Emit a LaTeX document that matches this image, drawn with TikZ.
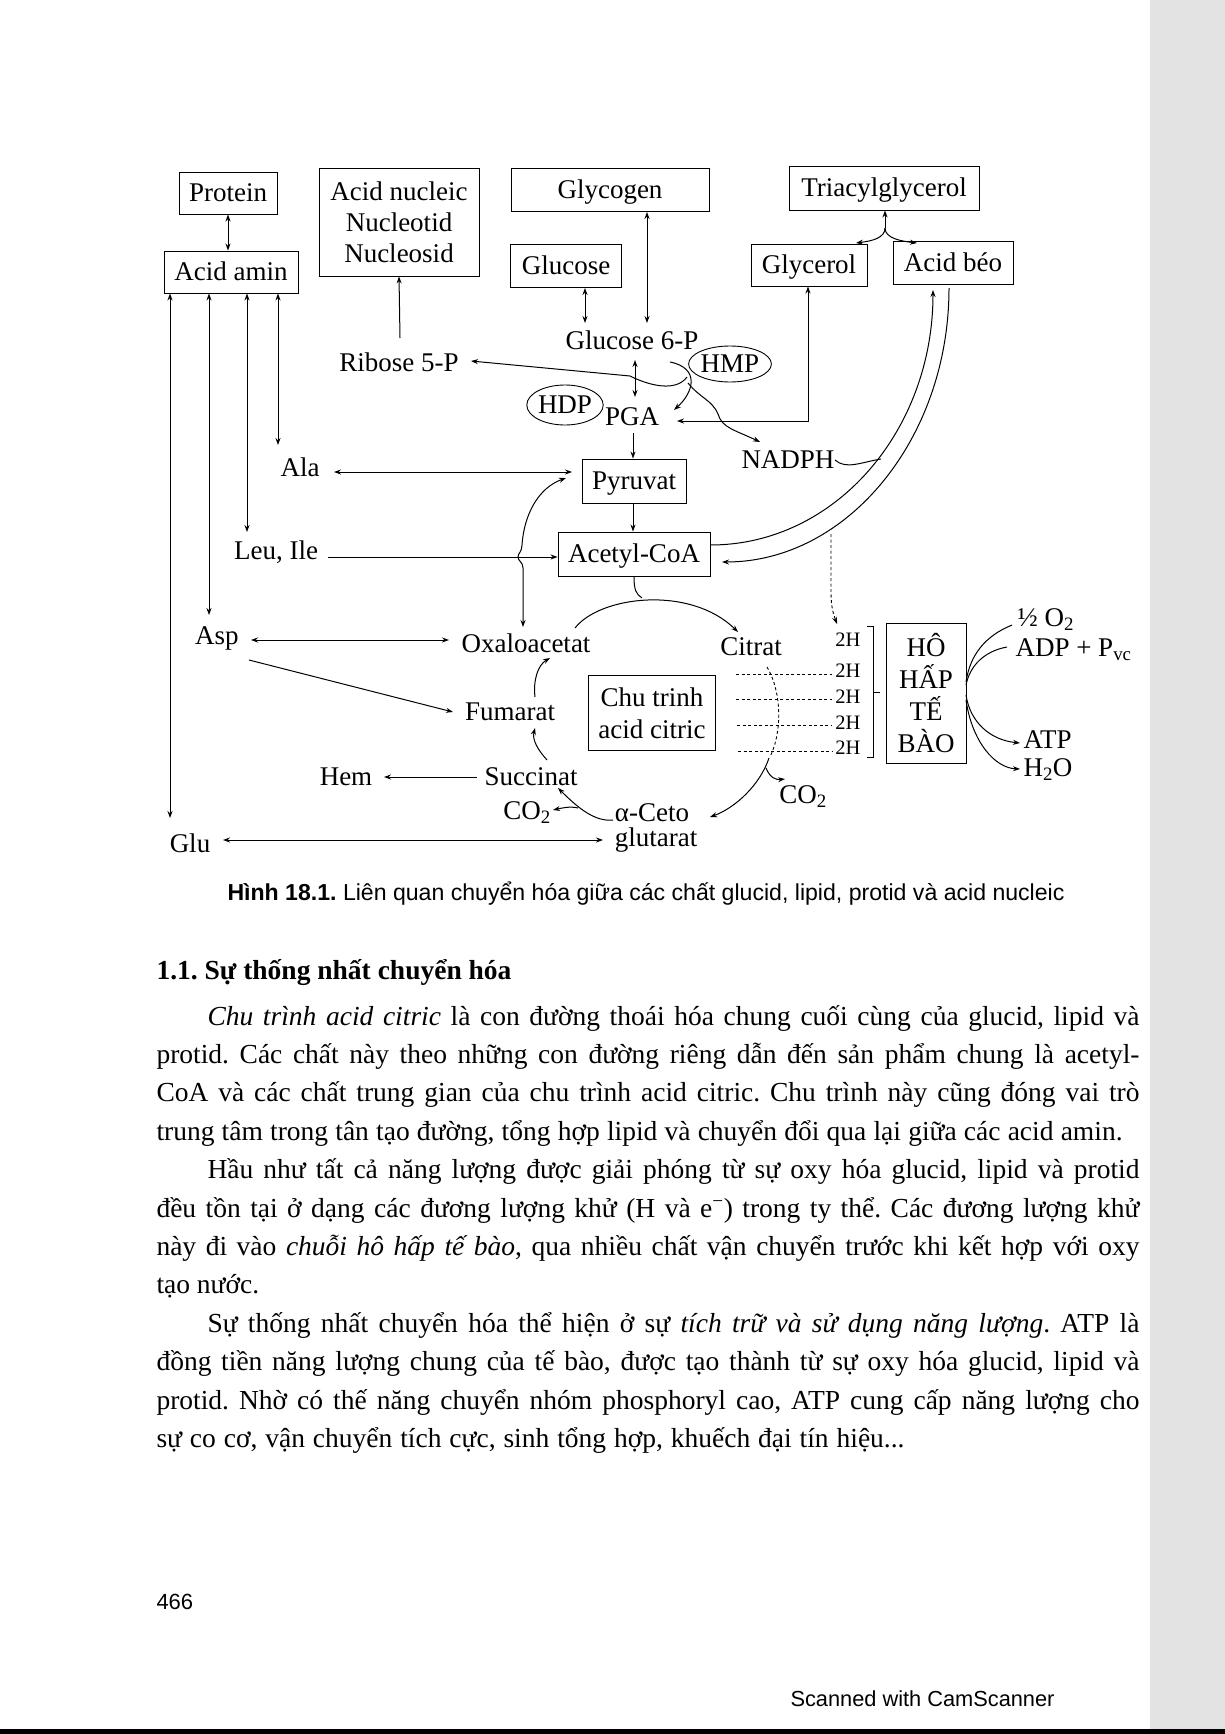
\documentclass[tikz,border=0pt]{standalone}
\usepackage{fontspec}
\usepackage{graphicx}
\setmainfont{Liberation Serif}
\newfontfamily\sansf{Liberation Sans}
\usetikzlibrary{arrows.meta,shapes.geometric}
\frenchspacing
\newcommand\diagfont{\fontsize{27}{31}\selectfont}
\newcommand\hfnt{\fontsize{20.5}{24}\selectfont}
\newcommand\bodyfont{\fontsize{27.5}{38}\selectfont}
\begin{document}
\begin{tikzpicture}[x=1pt,y=-1pt,>={Stealth[length=7pt,width=5pt]},line width=1pt,
  box/.style={draw,line width=0.9pt,inner sep=0pt,font=\diagfont,align=center},
  sbox/.style={box,text height=19pt,text depth=3pt},
  lab/.style={inner sep=0pt,font=\diagfont},
  two/.style={inner sep=0pt,font=\hfnt},
  bl/.style={inner sep=0pt,anchor=base west,font=\bodyfont},
  dsh/.style={line width=0.9pt,dash pattern=on 3pt off 2.5pt}]
\useasboundingbox (0,0) rectangle (1225,1734);
\fill[white] (0,0) rectangle (1225,1734);
\fill[gray!22] (1150,0) rectangle (1225,1729);
\fill[black] (0,1729) rectangle (1225,1734);

% ---------- boxes ----------
\node[sbox,minimum width=98pt,minimum height=42pt] (protein) at (228,193) {Protein};
\node[sbox,minimum width=134pt,minimum height=42pt] (acidamin) at (231,272) {Acid amin};
\node[box,minimum width=160pt,minimum height=108pt] (nucleic) at (399,222) {Acid nucleic\\Nucleotid\\Nucleosid};
\node[sbox,minimum width=198pt,minimum height=43pt] (glycogen) at (610,190) {Glycogen};
\node[sbox,minimum width=111pt,minimum height=43pt] (glucose) at (566,266) {Glucose};
\node[sbox,minimum width=190pt,minimum height=44pt] (triacyl) at (884,188) {Triacylglycerol};
\node[sbox,minimum width=116pt,minimum height=42pt] (glycerol) at (809,265) {Glycerol};
\node[sbox,minimum width=120pt,minimum height=43pt] (acidbeo) at (953,263) {Acid béo};
\node[sbox,minimum width=104pt,minimum height=44pt] (pyruvat) at (634,481) {Pyruvat};
\node[sbox,minimum width=152pt,minimum height=44pt] (acetyl) at (634,554) {Acetyl-CoA};
\node[box,minimum width=127pt,minimum height=75pt,font=\fontsize{27}{32}\selectfont] (chutrinh) at (652,713) {Chu trinh\\acid citric};
\node[box,minimum width=80pt,minimum height=140pt,font=\fontsize{27}{32}\selectfont] (hohap) at (926,693) {HÔ\\HẤP\\TẾ\\BÀO};

% ---------- labels ----------
\node[lab] (g6p) at (632,340) {Glucose 6-P};
\node[lab] (ribose) at (399,362) {Ribose 5-P};
\node[draw,line width=0.9pt,ellipse,inner sep=0pt,minimum width=67pt,minimum height=40pt,font=\diagfont] (hdp) at (565,405) {HDP};
\node[draw,line width=0.9pt,ellipse,inner sep=0pt,minimum width=66pt,minimum height=36pt,font=\diagfont] (hmp) at (730,364) {HMP};
\node[lab] (pga) at (632,417) {PGA};
\node[lab] (nadph) at (788,460) {NADPH};
\node[lab] (ala) at (300,467) {Ala};
\node[lab] (leuile) at (276,552) {Leu, Ile};
\node[lab] (asp) at (217,638) {Asp};
\node[lab] (glu) at (190,843) {Glu};
\node[lab] (oxalo) at (526,643) {Oxaloacetat};
\node[lab] (citrat) at (751,647) {Citrat};
\node[lab] (fumarat) at (510,712) {Fumarat};
\node[lab] (succinat) at (531,777) {Succinat};
\node[lab] (hem) at (346,777) {Hem};
\node[lab] (co2a) at (527,813) {CO\textsubscript{2}};
\node[lab] (aceto) at (652,813) {α-Ceto};
\node[lab] (glutarat) at (656,840) {glutarat};
\node[lab] (co2b) at (803,797) {CO\textsubscript{2}};
\node[two] (h1) at (848,640) {2H};
\node[two] (h2) at (848,671) {2H};
\node[two] (h3) at (848,697) {2H};
\node[two] (h4) at (848,723) {2H};
\node[two] (h5) at (848,748) {2H};
\node[lab,anchor=west] (o2) at (1017,620) {½ O\textsubscript{2}};
\node[lab,anchor=west] (adp) at (1015,650) {ADP + P\textsubscript{vc}};
\node[lab,anchor=west] (atp) at (1023,740) {ATP};
\node[lab,anchor=west] (h2o) at (1023,770) {H\textsubscript{2}O};

% ---------- connectors ----------
\draw[<->] (protein.south) -- (protein.south |- acidamin.north);
\draw[<->] (acidamin.south -| 170,0) -- (170,818);
\draw[<->] (acidamin.south -| 209,0) -- (209,615);
\draw[<->] (acidamin.south -| 247,0) -- (247,532);
\draw[<->] (acidamin.south -| 278,0) -- (278,445);
\draw[->] (400,338) -- (nucleic.south);
\draw[<->] (glucose.south -| 585,0) -- (585,323);
\draw[<->] (glycogen.south -| 647,0) -- (647,323);
\draw[<->] (635,360) -- (635,397);
\draw[->] (633,433) -- (pyruvat.north -| 633,0);
\draw[->] (pyruvat.south -| 633,0) -- (acetyl.north -| 633,0);
% HMP branch
\draw[->] (670,362) .. controls (700,368) and (694,392) .. (674,410);
\draw[->] (687,377) .. controls (676,392) and (650,386) .. (630,376) -- (471,361);
\draw[->] (688,383) .. controls (700,398) and (712,400) .. (718,414) .. controls (722,428) and (735,430) .. (760,442);
% glycerol
\draw[<->] (glycerol.south -| 808,0) -- (808,421) -- (677,421);
% triacylglycerol fork
\draw[->] (885,228) -- (triacyl.south -| 885,0);
\draw[->] (885,228) .. controls (885,238) and (872,241) .. (856,243);
\draw[->] (885,228) .. controls (885,238) and (900,241) .. (917,243);
% fatty acid loop
\draw[->] (acetyl.east |- 0,545) .. controls (835,545) and (933,431) .. (933,290);
\draw[->] (949,288) .. controls (949,439) and (847,562) .. (722,562);
\draw (nadph.east) .. controls (846,470) and (862,462) .. (881,459);
\draw[dsh,->] (831,534) -- (831,592) .. controls (831,606) and (833,613) .. (837,624);
% amino acids
\draw[<->] (334,472) -- (572,472);
\draw[->] (leuile.east) ++(10,5) -- (acetyl.west |- 0,557);
\draw[<->] (251,640) -- (449,640);
\draw[->] (249,660) -- (453,712);
\draw[<->] (223,840) -- (603,840);
\draw[<->] (523,627) -- (523,568) .. controls (523,562) and (518,561) .. (518,557) .. controls (518,553) and (522,552) .. (522,545) .. controls (524,515) and (538,488) .. (566,478);
% citric acid cycle
\draw (acetyl.south -| 634,0) .. controls (634,590) and (636,594) .. (642,598);
\draw[->] (575,628) .. controls (600,596) and (690,585) .. (738,632);
\draw[dsh] (767,667) .. controls (781,690) and (783,730) .. (770,757);
\draw[->] (769,758) .. controls (760,785) and (735,808) .. (710,817);
\draw[->] (766,768) .. controls (770,778) and (776,780) .. (785,779);
\draw[->] (613,820) .. controls (595,822) and (578,808) .. (558,788);
\draw[->] (578,808) .. controls (570,806) and (562,808) .. (553,810);
\draw[->] (547,760) .. controls (538,750) and (532,740) .. (535,728);
\draw[->] (535,697) .. controls (533,680) and (538,665) .. (550,658);
\draw[->] (477,777) -- (384,777);
% 2H dashed lines
\draw[dsh] (736,674) -- (832,674);
\draw[dsh] (736,699) -- (832,699);
\draw[dsh] (737,725) -- (832,725);
\draw[dsh] (738,751) -- (832,751);
\draw[line width=0.9pt] (867,626) -- (873,626) -- (873,757) -- (867,757);
\draw[line width=0.9pt] (873,692) -- (880,692);
% respiratory chain outputs
\draw (1012,625) .. controls (985,636) and (970,655) .. (966,682);
\draw (1007,647) .. controls (985,651) and (970,665) .. (966,685);
\draw[->] (966,695) .. controls (970,722) and (990,740) .. (1020,743);
\draw[->] (966,700) .. controls (972,742) and (995,768) .. (1020,769);

% ---------- caption and text ----------
\node[inner sep=0pt,anchor=base west] (cap) at (227,900) {\resizebox{837pt}{!}{\sansf\fontsize{20}{24}\selectfont\textbf{Hình 18.1.} Liên quan chuyển hóa giữa các chất glucid, lipid, protid và acid nucleic}};
\node[bl,font=\bodyfont\bfseries] (head) at (156,979) {1.1. Sự thống nhất chuyển hóa};
\node[bl] (a1) at (207,1025) {\makebox[932pt][s]{\textit{Chu trình acid citric} là con đường thoái hóa chung cuối cùng của glucid, lipid và}};
\node[bl] (a2) at (156,1063.4) {\makebox[983pt][s]{protid. Các chất này theo những con đường riêng dẫn đến sản phẩm chung là acetyl-}};
\node[bl] (a3) at (156,1101.8) {\makebox[983pt][s]{CoA và các chất trung gian của chu trình acid citric. Chu trình này cũng đóng vai trò}};
\node[bl] (a4) at (156,1140.2) {\makebox[966pt][s]{trung tâm trong tân tạo đường, tổng hợp lipid và chuyển đổi qua lại giữa các acid amin.}};
\node[bl] (b1) at (207,1178.6) {\makebox[932pt][s]{Hầu như tất cả năng lượng được giải phóng từ sự oxy hóa glucid, lipid và protid}};
\node[bl] (b2) at (156,1217) {\makebox[983pt][s]{đều tồn tại ở dạng các đương lượng khử (H và e\textsuperscript{−}) trong ty thể. Các đương lượng khử}};
\node[bl] (b3) at (156,1255.4) {\makebox[983pt][s]{này đi vào \textit{chuỗi hô hấp tế bào}, qua nhiều chất vận chuyển trước khi kết hợp với oxy}};
\node[bl] (b4) at (156,1293.8) {tạo nước.};
\node[bl] (c1) at (207,1332.2) {\makebox[932pt][s]{Sự thống nhất chuyển hóa thể hiện ở sự \textit{tích trữ và sử dụng năng lượng}. ATP là}};
\node[bl] (c2) at (156,1370.6) {\makebox[983pt][s]{đồng tiền năng lượng chung của tế bào, được tạo thành từ sự oxy hóa glucid, lipid và}};
\node[bl] (c3) at (156,1409) {\makebox[983pt][s]{protid. Nhờ có thế năng chuyển nhóm phosphoryl cao, ATP cung cấp năng lượng cho}};
\node[bl] (c4) at (156,1447.4) {\makebox[748pt][s]{sự co cơ, vận chuyển tích cực, sinh tổng hợp, khuếch đại tín hiệu...}};
\node[inner sep=0pt,anchor=base west,font=\sansf\fontsize{22}{26}\selectfont] (pg) at (156,1609) {466};
\node[inner sep=0pt,anchor=base west] (scan) at (790,1706) {\resizebox{264pt}{!}{\sansf\fontsize{22}{26}\selectfont Scanned with CamScanner}};
\end{tikzpicture}
\end{document}
